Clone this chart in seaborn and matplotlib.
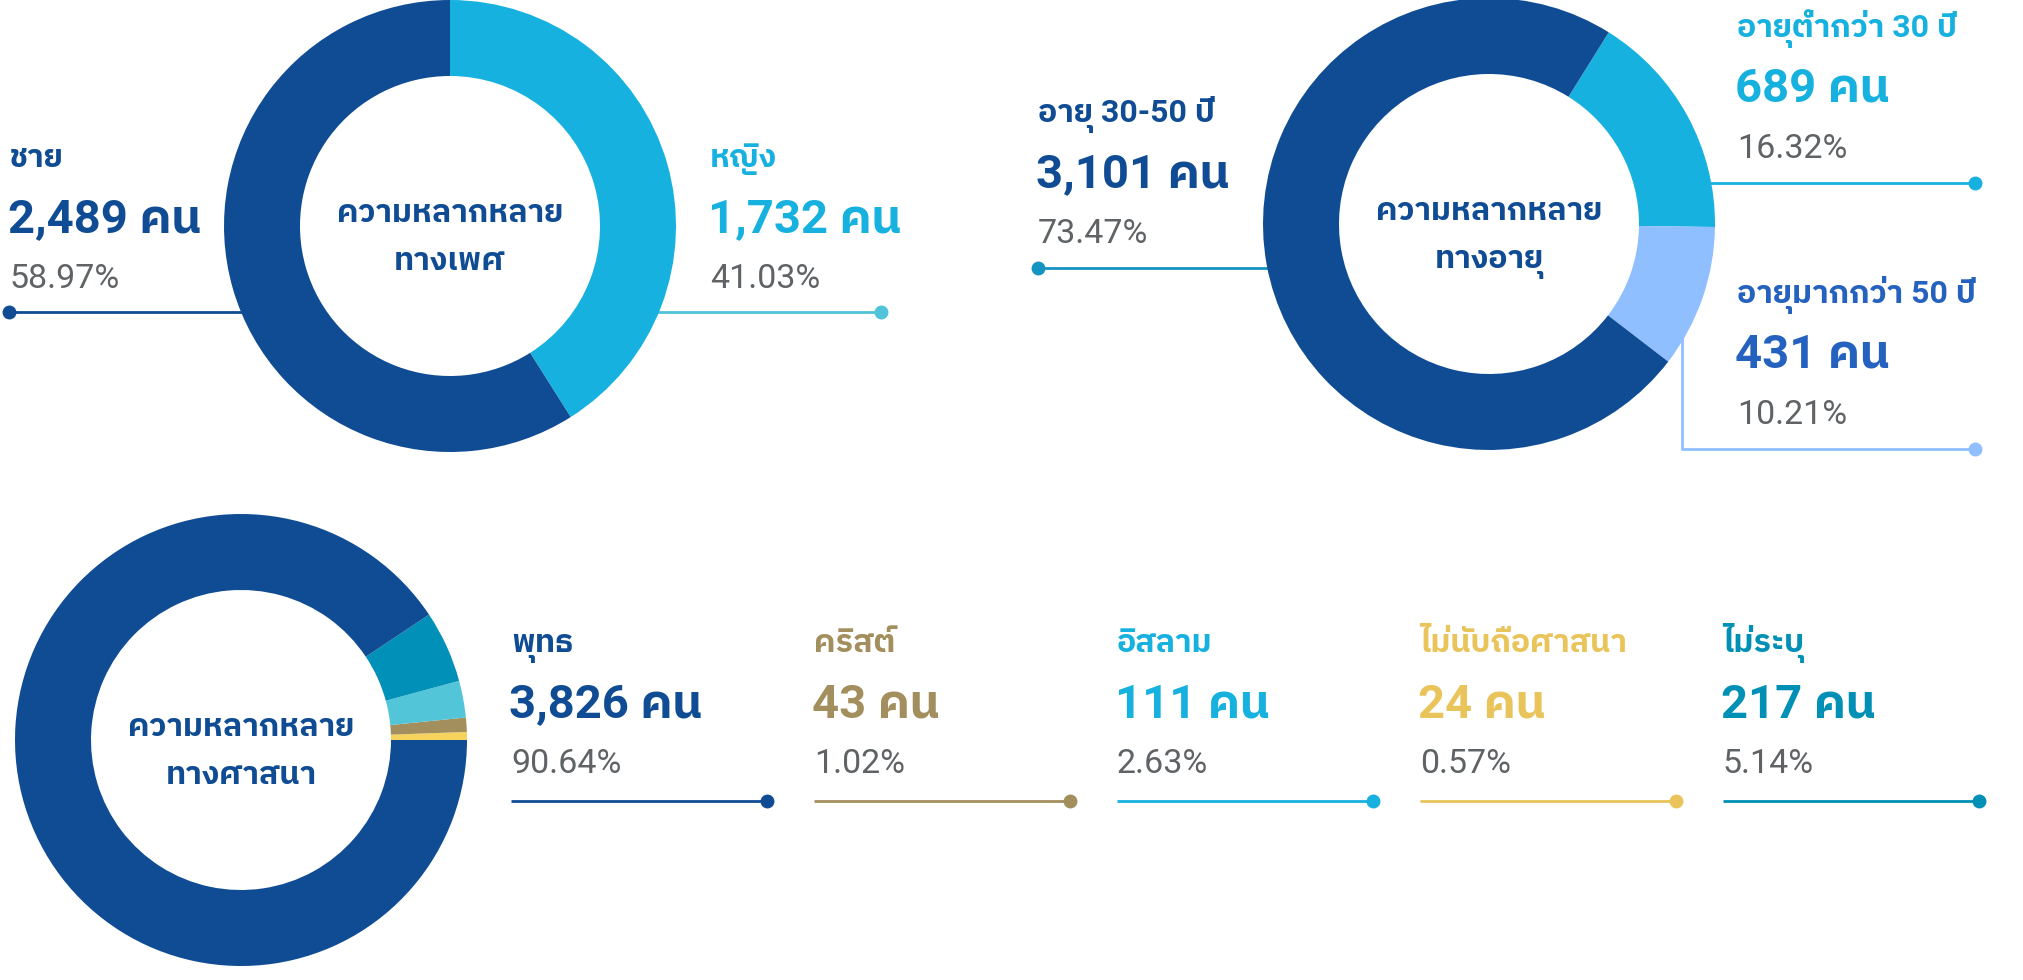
import numpy as np
import pandas as pd
import seaborn as sns
import matplotlib
matplotlib.use("Agg")
import matplotlib.pyplot as plt

sns.set_theme(style="white")
plt.rcParams['font.family'] = ['Roboto', 'IBM Plex Sans Thai', 'DejaVu Sans']

# ---------------- data ----------------
gender_labels = ['หญิง', 'ชาย']
gender_counts = [1732, 2489]
gender_pcts = ['41.03%', '58.97%']

age_labels = ['อายุต่ำกว่า 30 ปี', 'อายุมากกว่า 50 ปี', 'อายุ 30-50 ปี']
age_counts = [689, 431, 3101]
age_pcts = ['16.32%', '10.21%', '73.47%']

rel_labels = ['พุทธ', 'คริสต์', 'อิสลาม', 'ไม่นับถือศาสนา', 'ไม่ระบุ']
rel_counts = [3826, 43, 111, 24, 217]
rel_pcts = ['90.64%', '1.02%', '2.63%', '0.57%', '5.14%']

center_titles = ['ความหลากหลาย\nทางเพศ', 'ความหลากหลาย\nทางอายุ', 'ความหลากหลาย\nทางศาสนา']

# ---------------- style ----------------
DARK = '#104C94'
CYAN = '#17B1DF'
PALE = '#8FBFFF'
GRAY = '#5F6366'
gender_colors = [CYAN, DARK]
gender_line_colors = ['#4EC3D9', DARK]
age_colors = [CYAN, PALE, DARK]
age_text_colors = [CYAN, '#2561BF', DARK]
age_line_colors = [CYAN, PALE, '#1694C1']
rel_slice_colors = [DARK, '#A38F5E', '#52C6D8', '#F5D35C', '#0190B8']
rel_text_colors = [DARK, '#A38F5E', CYAN, '#E8C45A', '#0090B5']

W, H = 2024, 980
R_OUT, R_W = 226, 76
fig = plt.figure(figsize=(W / 100, H / 100), dpi=100)
ax = fig.add_axes([0, 0, 1, 1])


def Y(v):
    return H - v


def edge_x(cx, cy, y, side):
    dy = y - cy
    return cx + side * np.sqrt(max(R_OUT ** 2 - dy ** 2, 0)) * 0.99


def donut(values, colors, cx, cy, startangle, counterclock):
    ax.pie(values, colors=colors, radius=R_OUT, center=(cx, Y(cy)),
           startangle=startangle, counterclock=counterclock, frame=True,
           wedgeprops=dict(width=R_W, edgecolor='none', linewidth=0, zorder=3))


def center_text(txt, cx, cy):
    l1, l2 = txt.split('\n')
    ax.text(cx, Y(cy), l1, ha='center', va='baseline', fontsize=23,
            fontweight='bold', color=DARK, zorder=5)
    ax.text(cx, Y(cy + 48), l2, ha='center', va='baseline', fontsize=23,
            fontweight='bold', color=DARK, zorder=5)


def block(x, base, label, count, pct, color):
    ax.text(x, Y(base), label, ha='left', va='baseline', fontsize=23,
            fontweight='bold', color=color, zorder=5)
    ax.text(x - 2, Y(base + 65), f'{count:,} คน', ha='left', va='baseline',
            fontsize=34, fontweight='bold', color=color, zorder=5)
    ax.text(x, Y(base + 121), pct, ha='left', va='baseline', fontsize=24.5,
            fontweight='normal', color=GRAY, zorder=5)


def leader(xs, ys, color, dot_at_end=True):
    ax.plot(xs, [Y(v) for v in ys], color=color, lw=2.0, zorder=2,
            solid_capstyle='butt')
    i = -1 if dot_at_end else 0
    ax.plot([xs[i]], [Y(ys[i])], 'o', color=color, ms=9, zorder=2)


# ---------------- gender ----------------
gcx, gcy = 450, 226
donut(gender_counts, gender_colors, gcx, gcy, 90, False)
center_text(center_titles[0], gcx, 222)
block(10, 167, gender_labels[1], gender_counts[1], gender_pcts[1], gender_colors[1])
leader([9, edge_x(gcx, gcy, 312, -1)], [312, 312], gender_line_colors[1], dot_at_end=False)
block(710, 167, gender_labels[0], gender_counts[0], gender_pcts[0], gender_colors[0])
leader([edge_x(gcx, gcy, 312, 1), 881], [312, 312], gender_line_colors[0])

# ---------------- age ----------------
acx, acy = 1489, 224
donut(age_counts, age_colors, acx, acy, 58, False)
center_text(center_titles[1], acx, 220)
block(1038, 122, age_labels[2], age_counts[2], age_pcts[2], age_text_colors[2])
leader([1038, edge_x(acx, acy, 268, -1)], [268, 268], age_line_colors[2], dot_at_end=False)
block(1737, 37, age_labels[0], age_counts[0], age_pcts[0], age_text_colors[0])
leader([edge_x(acx, acy, 183, 1), 1975], [183, 183], age_line_colors[0])
block(1737, 303, age_labels[1], age_counts[1], age_pcts[1], age_text_colors[1])
leader([1682, 1682, 1975], [330, 449, 449], age_line_colors[1])

# ---------------- religion ----------------
rcx, rcy = 241, 740
order = [3, 1, 2, 4, 0]  # counter-clockwise from 3 o'clock
donut([rel_counts[i] for i in order], [rel_slice_colors[i] for i in order],
      rcx, rcy, 0, True)
center_text(center_titles[2], rcx, 736)
col_x = [511, 814, 1117, 1420, 1723]
for i, x in enumerate(col_x):
    block(x, 652, rel_labels[i], rel_counts[i], rel_pcts[i], rel_text_colors[i])
    leader([x, x + 256], [801, 801], rel_text_colors[i])

ax.set_xlim(0, W)
ax.set_ylim(0, H)
ax.set_aspect('equal')
ax.axis('off')
fig.savefig('out.png', dpi=100, facecolor='white')
